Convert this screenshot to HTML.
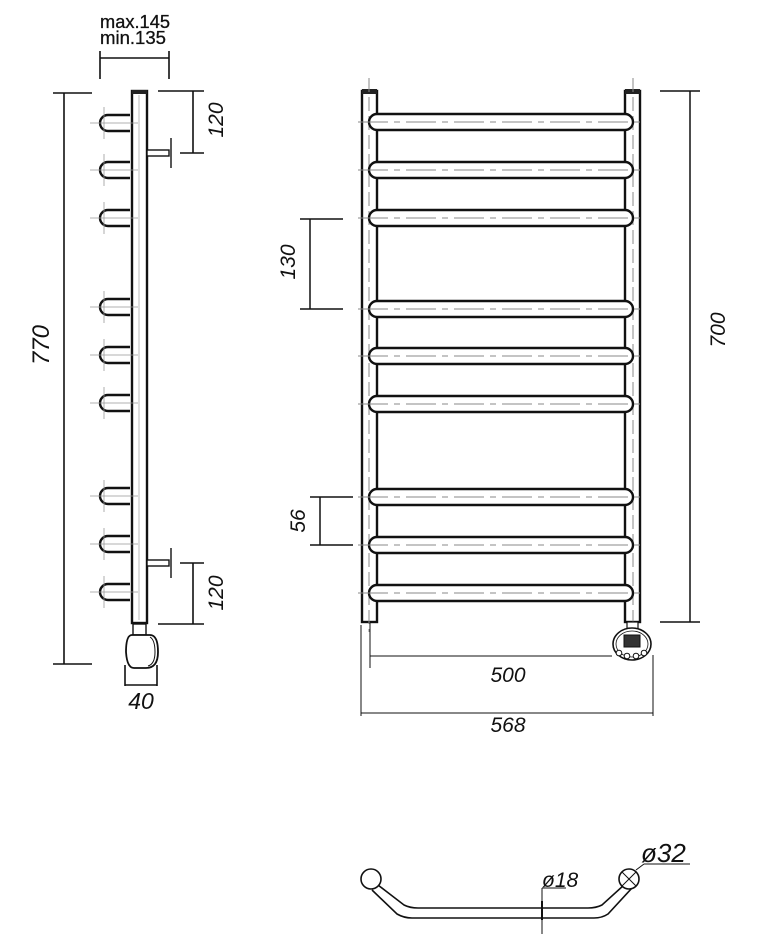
<!DOCTYPE html>
<html><head><meta charset="utf-8"><style>
html,body{margin:0;padding:0;background:#fff}
svg{display:block}
text{font-family:"Liberation Sans",Arial,sans-serif;fill:#111}
</style></head><body>
<svg width="783" height="949" viewBox="0 0 783 949" xmlns="http://www.w3.org/2000/svg">
<defs>
<g id="stub">
  <path d="M130,-8 L108,-8 A8,8 0 0 0 108,8 L130,8" fill="#fff" stroke="#111" stroke-width="2.4"/>
  <line x1="90" y1="0" x2="138" y2="0" stroke="#999" stroke-width="0.8"/>
  <line x1="104" y1="-16" x2="104" y2="16" stroke="#999" stroke-width="0.8"/>
</g>
<g id="rail">
  <rect x="369" y="-8" width="264" height="16" rx="8" ry="8" fill="#fff" stroke="#111" stroke-width="2.4"/>
  <line x1="358" y1="0" x2="645" y2="0" stroke="#888" stroke-width="1" stroke-dasharray="30,6,6,6"/>
</g>
</defs>

<!-- LEFT SIDE VIEW -->
<text x="100" y="28" font-size="18" textLength="70" lengthAdjust="spacingAndGlyphs" stroke="#111" stroke-width="0.3">max.145</text>
<text x="100" y="44" font-size="18" textLength="66" lengthAdjust="spacingAndGlyphs" stroke="#111" stroke-width="0.3">min.135</text>
<g stroke="#111" stroke-width="1.6" fill="none">
<line x1="100" y1="58" x2="169" y2="58"/>
<line x1="100" y1="51" x2="100" y2="79"/>
<line x1="169" y1="51" x2="169" y2="79"/>
<line x1="53" y1="93" x2="92" y2="93"/>
<line x1="64" y1="93" x2="64" y2="664"/>
<line x1="53" y1="664" x2="92" y2="664"/>
<line x1="158" y1="91" x2="204" y2="91"/>
<line x1="193" y1="91" x2="193" y2="153"/>
<line x1="180" y1="153" x2="204" y2="153"/>
<line x1="180" y1="563" x2="204" y2="563"/>
<line x1="193" y1="563" x2="193" y2="624"/>
<line x1="158" y1="624" x2="204" y2="624"/>
<line x1="125" y1="665" x2="125" y2="686"/>
<line x1="157" y1="665" x2="157" y2="686"/>
<line x1="125" y1="685" x2="157" y2="685"/>
</g>
<text transform="translate(49,345) rotate(-90)" font-size="24" font-style="italic" text-anchor="middle">770</text>
<text transform="translate(223,120) rotate(-90)" font-size="21" font-style="italic" text-anchor="middle">120</text>
<text transform="translate(223,593) rotate(-90)" font-size="21" font-style="italic" text-anchor="middle">120</text>
<text x="141" y="709" font-size="23" font-style="italic" text-anchor="middle">40</text>

<rect x="132" y="91" width="15" height="532" fill="#fff" stroke="#111" stroke-width="2.4"/>
<rect x="132" y="90" width="15" height="4" fill="#222"/>
<line x1="139" y1="95" x2="139" y2="620" stroke="#aaa" stroke-width="0.8"/>
<use href="#stub" y="123"/><use href="#stub" y="170"/><use href="#stub" y="218"/>
<use href="#stub" y="307"/><use href="#stub" y="355"/><use href="#stub" y="403"/>
<use href="#stub" y="496"/><use href="#stub" y="544"/><use href="#stub" y="592"/>
<g stroke="#111" stroke-width="1.4" fill="#fff">
<rect x="147" y="150" width="22" height="6"/>
<line x1="171" y1="138" x2="171" y2="168"/>
<rect x="147" y="560" width="22" height="6"/>
<line x1="171" y1="548" x2="171" y2="578"/>
</g>
<rect x="133" y="624" width="13" height="11" fill="#fff" stroke="#111" stroke-width="1.4"/>
<path d="M132,635 L150,635 Q158,635 158,652 Q158,668 146,668 L134,668 Q127,668 126,652 Q126,635 132,635 Z" fill="#fff" stroke="#111" stroke-width="1.8"/>
<path d="M150,637 Q155,640 155,652 Q155,664 148,666" fill="none" stroke="#111" stroke-width="1"/>

<!-- FRONT VIEW -->
<rect x="362" y="91" width="15" height="531" fill="#fff" stroke="#111" stroke-width="2.4"/>
<rect x="625" y="91" width="15" height="531" fill="#fff" stroke="#111" stroke-width="2.4"/>
<rect x="362" y="89" width="15" height="5" fill="#222"/>
<rect x="625" y="89" width="15" height="5" fill="#222"/>
<line x1="369" y1="78" x2="369" y2="632" stroke="#888" stroke-width="1" stroke-dasharray="14,5"/>
<line x1="633" y1="78" x2="633" y2="632" stroke="#888" stroke-width="1" stroke-dasharray="14,5"/>
<use href="#rail" y="122"/><use href="#rail" y="170"/><use href="#rail" y="218"/>
<use href="#rail" y="309"/><use href="#rail" y="356"/><use href="#rail" y="404"/>
<use href="#rail" y="497"/><use href="#rail" y="545"/><use href="#rail" y="593"/>

<rect x="627" y="622" width="11" height="8" fill="#fff" stroke="#111" stroke-width="1.2"/>
<ellipse cx="632" cy="644" rx="19" ry="16" fill="#fff" stroke="#111" stroke-width="1.6"/>
<ellipse cx="632" cy="644" rx="16" ry="13" fill="none" stroke="#111" stroke-width="0.8"/>
<rect x="624" y="635" width="16" height="12" fill="#333" stroke="#111" stroke-width="1"/>
<g fill="#fff" stroke="#111" stroke-width="1"><circle cx="619" cy="653" r="2.8"/><circle cx="627" cy="656" r="2.8"/><circle cx="636" cy="656" r="2.8"/><circle cx="644" cy="653" r="2.8"/></g>

<g stroke="#111" stroke-width="1.5" fill="none">
<line x1="300" y1="219" x2="343" y2="219"/>
<line x1="310" y1="219" x2="310" y2="309"/>
<line x1="300" y1="309" x2="343" y2="309"/>
<line x1="310" y1="497" x2="353" y2="497"/>
<line x1="320" y1="497" x2="320" y2="545"/>
<line x1="310" y1="545" x2="353" y2="545"/>
<line x1="660" y1="91" x2="700" y2="91"/>
<line x1="690" y1="91" x2="690" y2="622"/>
<line x1="660" y1="622" x2="700" y2="622"/>
</g>
<g stroke="#111" stroke-width="1" fill="none">
<line x1="370" y1="622" x2="370" y2="668"/>
<line x1="370" y1="656" x2="612" y2="656"/>
<line x1="361" y1="625" x2="361" y2="716"/>
<line x1="653" y1="655" x2="653" y2="716"/>
<line x1="361" y1="713" x2="653" y2="713"/>
</g>
<text transform="translate(295,262) rotate(-90)" font-size="21" font-style="italic" text-anchor="middle">130</text>
<text transform="translate(305,521) rotate(-90)" font-size="21" font-style="italic" text-anchor="middle">56</text>
<text transform="translate(725,330) rotate(-90)" font-size="21" font-style="italic" text-anchor="middle">700</text>
<text x="508" y="682" font-size="21" font-style="italic" text-anchor="middle">500</text>
<text x="508" y="732" font-size="21" font-style="italic" text-anchor="middle">568</text>

<!-- TOP VIEW -->
<g stroke="#111" stroke-width="1.6" fill="none">
<path d="M378,885 L404,905 Q410,908 418,908 L588,908 Q596,908 602,905 L624,885"/>
<path d="M372,890 L397,914 Q404,918 412,918 L594,918 Q602,918 608,914 L632,888"/>
<circle cx="371" cy="879" r="10" fill="#fff"/>
<circle cx="629" cy="879" r="10" fill="#fff"/>
<line x1="622" y1="872" x2="636" y2="886" stroke-width="1"/>
<line x1="636" y1="872" x2="622" y2="886" stroke-width="1"/>
<line x1="636" y1="870" x2="644" y2="864" stroke-width="1"/>
<line x1="644" y1="864" x2="690" y2="864" stroke-width="1"/>
<line x1="542" y1="888" x2="542" y2="934" stroke-width="1"/>
<line x1="542" y1="888" x2="566" y2="888" stroke-width="1"/>
<line x1="542" y1="901" x2="542" y2="920" stroke-width="2"/>
</g>
<text x="641" y="862" font-size="26" font-style="italic">ø32</text>
<text x="542" y="887" font-size="21" font-style="italic">ø18</text>
</svg>
</body></html>
